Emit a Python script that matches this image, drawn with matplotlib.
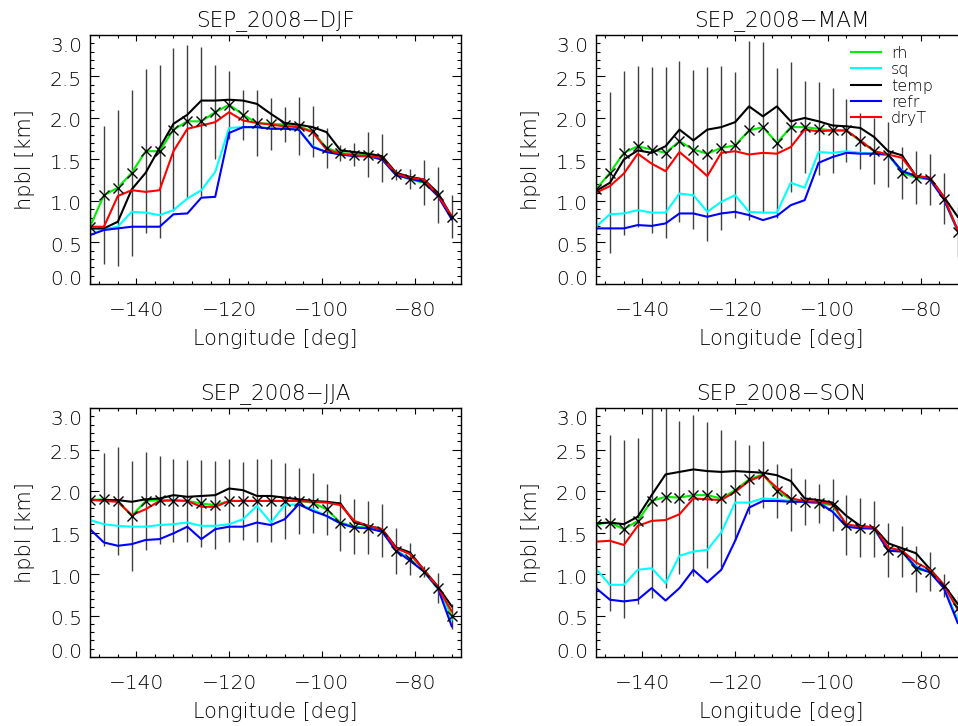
import matplotlib
matplotlib.use("Agg")
import matplotlib.pyplot as plt
from matplotlib.ticker import MultipleLocator, FixedLocator
import matplotlib.transforms as mtrans

plt.rcParams['font.family'] = ['DejaVu Sans']
plt.rcParams['font.weight'] = 'light'
plt.rcParams['axes.titleweight'] = 'light'
plt.rcParams['axes.labelweight'] = 'light'

lon = [-150, -147, -144, -141, -138, -135, -132, -129, -126, -123, -120, -117, -114,
       -111, -108, -105, -102, -99, -96, -93, -90, -87, -84, -81, -78, -75, -72]

# ---------------- DJF ----------------
djf_rh = [0.69, 1.07, 1.16, 1.34, 1.60, 1.60, 1.86, 1.96, 1.96, 2.07, 2.16, 2.04, 1.94, 1.93,
          1.92, 1.90, 1.84, 1.64, 1.58, 1.56, 1.56, 1.52, 1.32, 1.26, 1.22, 1.07, 0.81]
djf_sq = [0.66, 0.66, 0.69, 0.87, 0.86, 0.83, 0.89, 1.03, 1.13, 1.35, 1.88, 1.89, 1.89, 1.88,
          1.87, 1.86, 1.66, 1.59, 1.57, 1.55, 1.54, 1.50, 1.32, 1.28, 1.24, 1.07, 0.79]
djf_temp = [0.67, 0.67, 0.75, 1.14, 1.34, 1.64, 1.93, 2.04, 2.21, 2.21, 2.22, 2.21, 2.17, 2.05,
            1.94, 1.92, 1.89, 1.83, 1.61, 1.59, 1.57, 1.54, 1.34, 1.29, 1.26, 1.10, 0.81]
djf_refr = [0.59, 0.65, 0.67, 0.69, 0.69, 0.69, 0.84, 0.85, 1.04, 1.05, 1.82, 1.89, 1.89, 1.87,
            1.87, 1.86, 1.65, 1.59, 1.56, 1.54, 1.54, 1.50, 1.31, 1.27, 1.23, 1.06, 0.78]
djf_dryT = [0.69, 0.69, 1.06, 1.13, 1.11, 1.13, 1.60, 1.87, 1.91, 1.95, 2.07, 1.97, 1.94, 1.92,
            1.90, 1.89, 1.83, 1.62, 1.57, 1.55, 1.54, 1.52, 1.33, 1.28, 1.26, 1.07, 0.82]
djf_err = [0.80, 0.83, 0.94, 1.00, 0.99, 1.04, 0.98, 0.92, 0.90, 0.57, 0.41, 0.30, 0.40, 0.31,
           0.21, 0.35, 0.31, 0.24, 0.10, 0.14, 0.27, 0.29, 0.07, 0.12, 0.27, 0.34, 0.26]

# ---------------- MAM ----------------
mam_rh = [1.14, 1.34, 1.58, 1.66, 1.62, 1.58, 1.72, 1.62, 1.57, 1.64, 1.67, 1.85, 1.89, 1.70,
          1.89, 1.89, 1.87, 1.85, 1.85, 1.72, 1.60, 1.56, 1.34, 1.28, 1.26, 1.03, 0.63]
mam_sq = [0.69, 0.84, 0.85, 0.89, 0.86, 0.86, 1.09, 1.07, 0.87, 0.99, 1.07, 0.87, 0.86, 0.86,
          1.22, 1.16, 1.59, 1.58, 1.60, 1.58, 1.57, 1.55, 1.37, 1.30, 1.26, 1.03, 0.63]
mam_temp = [1.12, 1.22, 1.50, 1.61, 1.58, 1.66, 1.86, 1.73, 1.86, 1.89, 1.95, 2.14, 2.02, 2.14,
            1.96, 2.00, 1.96, 1.91, 1.90, 1.88, 1.77, 1.60, 1.55, 1.30, 1.28, 1.05, 0.81]
mam_refr = [0.67, 0.67, 0.67, 0.71, 0.70, 0.73, 0.85, 0.85, 0.81, 0.85, 0.87, 0.83, 0.77, 0.82,
            0.95, 1.01, 1.46, 1.53, 1.58, 1.57, 1.57, 1.56, 1.36, 1.30, 1.26, 1.02, 0.65]
mam_dryT = [1.10, 1.18, 1.33, 1.57, 1.45, 1.36, 1.59, 1.45, 1.30, 1.58, 1.60, 1.56, 1.58, 1.57,
            1.65, 1.86, 1.84, 1.85, 1.85, 1.73, 1.60, 1.56, 1.52, 1.30, 1.28, 1.05, 0.65]
mam_err = [0.95, 0.97, 0.99, 0.97, 1.00, 1.03, 0.97, 0.96, 1.05, 0.99, 0.88, 1.08, 1.03, 0.90,
           0.78, 0.55, 0.56, 0.51, 0.38, 0.34, 0.40, 0.39, 0.31, 0.32, 0.31, 0.31, 0.30]

# ---------------- JJA ----------------
jja_rh = [1.89, 1.90, 1.88, 1.70, 1.88, 1.89, 1.88, 1.88, 1.85, 1.83, 1.88, 1.88, 1.88, 1.88,
          1.88, 1.88, 1.86, 1.78, 1.62, 1.57, 1.56, 1.52, 1.28, 1.18, 1.03, 0.83, 0.49]
jja_sq = [1.65, 1.60, 1.58, 1.57, 1.57, 1.59, 1.60, 1.62, 1.58, 1.58, 1.60, 1.66, 1.82, 1.62,
          1.83, 1.84, 1.78, 1.70, 1.61, 1.56, 1.56, 1.51, 1.29, 1.18, 1.03, 0.82, 0.45]
jja_temp = [1.89, 1.89, 1.89, 1.87, 1.90, 1.91, 1.95, 1.93, 1.94, 1.95, 2.03, 2.01, 1.94, 1.94,
            1.92, 1.90, 1.88, 1.87, 1.85, 1.62, 1.58, 1.54, 1.32, 1.26, 1.05, 0.85, 0.61]
jja_refr = [1.54, 1.38, 1.34, 1.36, 1.41, 1.42, 1.49, 1.57, 1.42, 1.54, 1.57, 1.57, 1.62, 1.59,
            1.66, 1.84, 1.76, 1.70, 1.61, 1.56, 1.55, 1.51, 1.28, 1.16, 1.03, 0.83, 0.37]
jja_dryT = [1.90, 1.88, 1.87, 1.71, 1.78, 1.88, 1.89, 1.88, 1.81, 1.81, 1.88, 1.88, 1.88, 1.88,
            1.88, 1.88, 1.87, 1.86, 1.83, 1.64, 1.58, 1.54, 1.31, 1.24, 1.05, 0.84, 0.55]
jja_err = [0.55, 0.56, 0.65, 0.66, 0.59, 0.53, 0.50, 0.49, 0.52, 0.53, 0.50, 0.47, 0.50, 0.50,
           0.46, 0.40, 0.36, 0.31, 0.34, 0.33, 0.32, 0.32, 0.28, 0.19, 0.07, 0.18, 0.15]

# ---------------- SON ----------------
son_rh = [1.60, 1.62, 1.54, 1.64, 1.88, 1.93, 1.92, 1.95, 1.95, 1.91, 2.01, 2.14, 2.20, 2.00,
          1.90, 1.87, 1.85, 1.83, 1.59, 1.56, 1.54, 1.29, 1.27, 1.06, 1.03, 0.86, 0.59]
son_sq = [1.06, 0.87, 0.87, 1.05, 1.07, 0.89, 1.22, 1.27, 1.29, 1.50, 1.86, 1.86, 1.91, 1.90,
          1.88, 1.87, 1.86, 1.76, 1.58, 1.56, 1.55, 1.30, 1.28, 1.10, 1.02, 0.85, 0.45]
son_temp = [1.61, 1.62, 1.60, 1.69, 1.95, 2.20, 2.23, 2.26, 2.24, 2.23, 2.24, 2.23, 2.22, 2.19,
            2.12, 1.91, 1.89, 1.86, 1.70, 1.58, 1.56, 1.37, 1.31, 1.25, 1.06, 0.87, 0.64]
son_refr = [0.83, 0.69, 0.67, 0.69, 0.83, 0.68, 0.83, 1.05, 0.90, 1.05, 1.40, 1.80, 1.88, 1.88,
            1.87, 1.87, 1.86, 1.75, 1.57, 1.55, 1.55, 1.28, 1.27, 1.08, 1.02, 0.83, 0.41]
son_dryT = [1.39, 1.40, 1.35, 1.58, 1.64, 1.65, 1.72, 1.91, 1.90, 1.89, 1.99, 2.12, 2.19, 2.04,
            1.91, 1.88, 1.87, 1.84, 1.60, 1.57, 1.56, 1.32, 1.28, 1.14, 1.05, 0.87, 0.57]
son_err = [1.00, 1.06, 1.07, 1.00, 1.17, 1.10, 0.92, 0.97, 0.88, 0.82, 0.60, 0.42, 0.40, 0.33,
           0.38, 0.28, 0.24, 0.31, 0.36, 0.36, 0.34, 0.33, 0.31, 0.28, 0.24, 0.14, 0.15]

titles = ["SEP_2008\u2212DJF", "SEP_2008\u2212MAM", "SEP_2008\u2212JJA", "SEP_2008\u2212SON"]
series_names = ["rh", "sq", "temp", "refr", "dryT"]
series_colors = ["#00ee00", "#00ffff", "#000000", "#0000ff", "#ff0000"]
yticks = [0.0, 0.5, 1.0, 1.5, 2.0, 2.5, 3.0]
ytick_labels = ["0.0", "0.5", "1.0", "1.5", "2.0", "2.5", "3.0"]
xticks = [-140, -120, -100, -80]
xtick_labels = ["\u2212140", "\u2212120", "\u2212100", "\u221280"]

seasons = [
    (djf_rh, djf_sq, djf_temp, djf_refr, djf_dryT, djf_err),
    (mam_rh, mam_sq, mam_temp, mam_refr, mam_dryT, mam_err),
    (jja_rh, jja_sq, jja_temp, jja_refr, jja_dryT, jja_err),
    (son_rh, son_sq, son_temp, son_refr, son_dryT, son_err),
]

W, H = 958, 726
DPI = 100
fig = plt.figure(figsize=(W / DPI, H / DPI), dpi=DPI, facecolor="white")

# axes boxes in pixels: left, top, right, bottom
boxes = [(90, 35, 461, 284), (596, 35, 967, 284), (90, 408, 461, 657), (596, 408, 967, 657)]

FS = 14.5
FS_LAB = 15
FS_TITLE = 15.5
TXT = "#000000"


def px_offset(dx, dy):
    return mtrans.ScaledTranslation(dx / DPI, dy / DPI, fig.dpi_scale_trans)


for i, (box, title, data) in enumerate(zip(boxes, titles, seasons)):
    l, t, r, b = box
    ax = fig.add_axes([l / W, 1 - b / H, (r - l) / W, (b - t) / H])
    rh, sq, temp, refr, dryT, err = data

    ax.errorbar(lon, rh, yerr=err, fmt="none", ecolor="#404040", elinewidth=1.0,
                capsize=0, zorder=1)
    for vals, name, col in zip([rh, sq, temp, refr, dryT], series_names, series_colors):
        ax.plot(lon, vals, color=col, lw=1.5, label=name, zorder=2)
    ax.plot(lon, rh, linestyle="none", marker="x", color="k", ms=7, mew=1.0, zorder=4)

    ax.set_xlim(-150, -70)
    ax.set_ylim(0, 3)
    ax.xaxis.set_major_locator(FixedLocator(xticks))
    ax.set_xticklabels(xtick_labels)
    ax.xaxis.set_minor_locator(MultipleLocator(4))
    ax.yaxis.set_major_locator(FixedLocator(yticks))
    ax.yaxis.set_minor_locator(MultipleLocator(0.1))

    ax.tick_params(axis="both", which="both", direction="in", top=True, right=True,
                   width=0.8, color="k")
    ax.tick_params(axis="x", which="major", length=4.5, pad=12.5, labelsize=FS,
                   labelcolor=TXT)
    ax.tick_params(axis="x", which="minor", length=2.2)
    ax.tick_params(axis="y", which="major", length=6.5, labelleft=False)
    ax.tick_params(axis="y", which="minor", length=3.2)
    for sp in ax.spines.values():
        sp.set_linewidth(1.0)

    # y tick labels (end labels pulled inward as in the original)
    for v, lab in zip(yticks, ytick_labels):
        dy = -2
        if v == yticks[-1]:
            dy = -10
        elif v == yticks[0]:
            dy = 6
        tr = ax.get_yaxis_transform() + px_offset(-8, dy)
        ax.text(0, v, lab, transform=tr, ha="right", va="center_baseline", fontsize=FS,
                color=TXT)

    ax.set_title(title, fontsize=FS_TITLE, pad=6.5, color=TXT)
    ax.set_xlabel("Longitude [deg]", fontsize=FS_LAB, color=TXT)
    ax.xaxis.set_label_coords(0.5, -0.182)
    ax.set_ylabel("hpbl [km]", fontsize=FS_LAB, color=TXT)
    ax.yaxis.set_label_coords(-0.148, 0.5)

    if i == 1:
        # legend, laid out in pixels relative to the top-left corner of the axes
        row0, row_step = 17, 16.3      # px below the axes top
        x0, x1, xt = 255, 285, 295     # px right of the axes left edge
        for j, (name, col) in enumerate(zip(series_names, series_colors)):
            yy = -(row0 + row_step * j)
            tr = ax.transAxes + px_offset(0, yy)
            ax.plot([x0 / (r - l), x1 / (r - l)], [1, 1], color=col, lw=1.5,
                    transform=tr, clip_on=False, zorder=5)
            ax.text(xt / (r - l), 1, name, transform=tr + px_offset(0, -6), ha="left",
                    va="baseline", fontsize=11.5, color=TXT, zorder=5)

fig.savefig("out.png", dpi=DPI, facecolor="white")
